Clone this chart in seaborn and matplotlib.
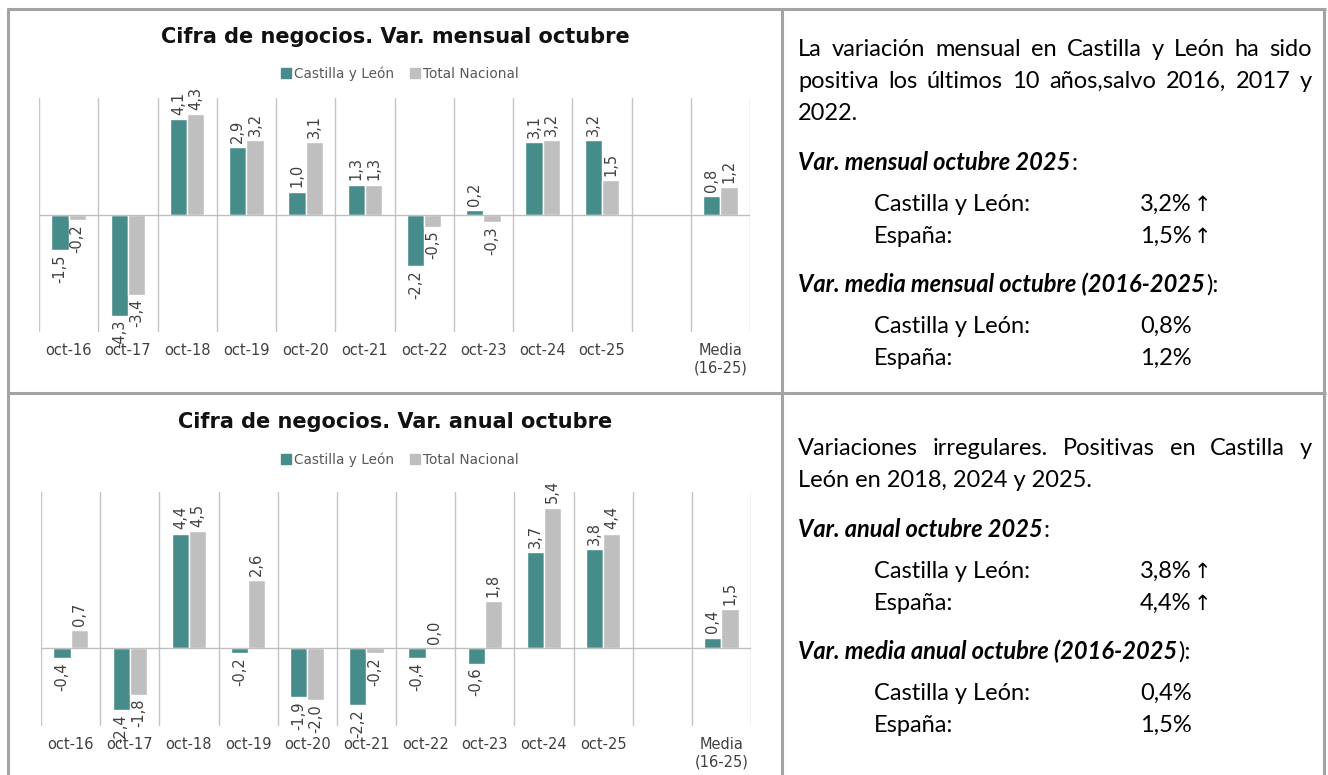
import matplotlib
matplotlib.use('Agg')
import matplotlib.pyplot as plt
import seaborn as sns
import pandas as pd
import numpy as np
from matplotlib.lines import Line2D

# ---------------- data ----------------
categories = ['oct-16', 'oct-17', 'oct-18', 'oct-19', 'oct-20', 'oct-21',
              'oct-22', 'oct-23', 'oct-24', 'oct-25', '', 'Media\n(16-25)']
series = ['Castilla y León', 'Total Nacional']
mensual_cyl = [-1.5, -4.3, 4.1, 2.9, 1.0, 1.3, -2.2, 0.2, 3.1, 3.2, None, 0.8]
mensual_tn = [-0.2, -3.4, 4.3, 3.2, 3.1, 1.3, -0.5, -0.3, 3.2, 1.5, None, 1.2]
anual_cyl = [-0.4, -2.4, 4.4, -0.2, -1.9, -2.2, -0.4, -0.6, 3.7, 3.8, None, 0.4]
anual_tn = [0.7, -1.8, 4.5, 2.6, -2.0, -0.2, 0.0, 1.8, 5.4, 4.4, None, 1.5]

title_mensual = 'Cifra de negocios. Var. mensual octubre'
title_anual = 'Cifra de negocios. Var. anual octubre'

TEAL = '#468C8A'
GRAY = '#BFBFBF'
BORDER = '#A3A3A3'

W, H = 1328, 775
sns.set_theme(style='white')
plt.rcParams['font.family'] = ['DejaVu Sans']

fig = plt.figure(figsize=(W / 100, H / 100), dpi=100)
fig.patch.set_facecolor('white')


def px_axes(x0, y0, x1, y1):
    return fig.add_axes([x0 / W, 1 - y1 / H, (x1 - x0) / W, (y1 - y0) / H])


def long_df(cyl, tn):
    rows = []
    for c, a, b in zip(categories, cyl, tn):
        if a is not None:
            rows.append((c, series[0], a))
        if b is not None:
            rows.append((c, series[1], b))
    return pd.DataFrame(rows, columns=['cat', 'serie', 'val'])


def draw_chart(ax, cyl, tn, ylim, title, title_y, legend_y):
    df = long_df(cyl, tn)
    sns.barplot(data=df, x='cat', y='val', hue='serie', order=categories,
                hue_order=series, palette=[TEAL, GRAY], width=0.58, gap=0,
                errorbar=None, saturation=1, legend=False, ax=ax)
    ax.set_xlim(-0.5, len(categories) - 0.5)
    ax.set_ylim(*ylim)
    ax.set_xticks(np.arange(-0.5, len(categories)), minor=True)
    ax.grid(False)
    ax.grid(which='minor', axis='x', color='#C4C4C4', lw=1)
    ax.set_axisbelow(True)
    ax.axhline(0, color='#BFBFBF', lw=1, zorder=1)
    ax.set_yticks([])
    ax.set_xlabel('')
    ax.set_ylabel('')
    for s in ax.spines.values():
        s.set_visible(False)
    ax.tick_params(axis='x', which='both', length=0, pad=8,
                   labelsize=10.5, labelcolor='#404040')
    for cont in ax.containers:
        for bar in cont:
            v = bar.get_height()
            if v is None or np.isnan(v):
                continue
            xc = bar.get_x() + bar.get_width() / 2
            lab = f'{v:.1f}'.replace('.', ',')
            if v >= 0:
                ax.annotate(lab, (xc, v), xytext=(0, 3), textcoords='offset points',
                            rotation=90, ha='center', va='bottom', fontsize=10.5,
                            color='#404040', annotation_clip=False)
            else:
                ax.annotate(lab, (xc, v), xytext=(0, -3), textcoords='offset points',
                            rotation=90, ha='center', va='top', fontsize=10.5,
                            color='#404040', annotation_clip=False)
    fig.text(395 / W, 1 - title_y / H, title, ha='center', va='center',
             fontsize=15, weight='bold', color='#111111')
    handles = [Line2D([0], [0], marker='s', ls='', color=c, markersize=7.5) for c in (TEAL, GRAY)]
    fig.legend(handles, series, loc='center', bbox_to_anchor=(400 / W, 1 - legend_y / H),
               ncol=2, frameon=False, fontsize=9.8, handlelength=0.7, handletextpad=0.2,
               columnspacing=1.2, labelcolor='#595959')


ax1 = px_axes(39, 98, 750, 332)
draw_chart(ax1, mensual_cyl, mensual_tn, (-5, 5), title_mensual, 37, 74)
ax2 = px_axes(41, 492, 751, 726)
draw_chart(ax2, anual_cyl, anual_tn, (-3, 6), title_anual, 422, 460)

# ---------------- borders ----------------
def hline(y, x0, x1):
    fig.add_artist(Line2D([x0 / W, x1 / W], [1 - y / H, 1 - y / H], transform=fig.transFigure,
                          color=BORDER, lw=2.2, solid_capstyle='butt'))


def vline(x, y0, y1):
    fig.add_artist(Line2D([x / W, x / W], [1 - y0 / H, 1 - y1 / H], transform=fig.transFigure,
                          color=BORDER, lw=2.2, solid_capstyle='butt'))


hline(9, 7, 1326)
hline(393, 7, 1326)
vline(8, 8, 775)
vline(782, 8, 775)
vline(1324, 8, 775)

# ---------------- right text ----------------
TXT = dict(family=['Lato', 'DejaVu Sans'], fontsize=17, color='#000000')
renderer = fig.canvas.get_renderer()
LX, VX, HX = 874, 1140, 798
BOFF = 8  # baseline offset from visual line centre


def justify(line, y, x0=798, x1=1312):
    words = line.split(' ')
    texts = [fig.text(0, 1 - (y + BOFF) / H, w, va='baseline', ha='left', **TXT) for w in words]
    widths = [t.get_window_extent(renderer).width for t in texts]
    gap = (x1 - x0 - sum(widths)) / (len(words) - 1)
    x = x0
    for t, w in zip(texts, widths):
        t.set_x(x / W)
        x += w + gap


def plain(s, x, y, **extra):
    kw = dict(TXT)
    kw.update(extra)
    return fig.text(x / W, 1 - (y + BOFF) / H, s, va='baseline', ha='left', **kw)


def heading(s, tail, y, x=HX):
    t = plain(s, x, y, weight='bold', style='italic')
    w = t.get_window_extent(renderer).width
    plain(tail, x + w + 1, y)


def value_row(label, value, y, arrow=True):
    plain(label, LX, y)
    t = plain(value, VX, y)
    if arrow:
        w = t.get_window_extent(renderer).width
        plain('↑', VX + w + 2, y, family=['DejaVu Sans'], fontsize=15)


# top panel
justify('La variación mensual en Castilla y León ha sido', 48)
justify('positiva los últimos 10 años,salvo 2016, 2017 y', 80)
plain('2022.', HX, 112)
heading('Var. mensual octubre 2025', ':', 162)
value_row('Castilla y León:', '3,2%', 203)
value_row('España:', '1,5%', 235)
heading('Var. media mensual octubre (2016-2025', '):', 284)
value_row('Castilla y León:', '0,8%', 325, arrow=False)
value_row('España:', '1,2%', 357, arrow=False)

# bottom panel
justify('Variaciones irregulares. Positivas en Castilla y', 447)
plain('León en 2018, 2024 y 2025.', HX, 479)
heading('Var. anual octubre 2025', ':', 529)
value_row('Castilla y León:', '3,8%', 570)
value_row('España:', '4,4%', 602)
heading('Var. media anual octubre (2016-2025', '):', 651)
value_row('Castilla y León:', '0,4%', 692, arrow=False)
value_row('España:', '1,5%', 724, arrow=False)

fig.savefig('out.png', dpi=100, facecolor='white')
